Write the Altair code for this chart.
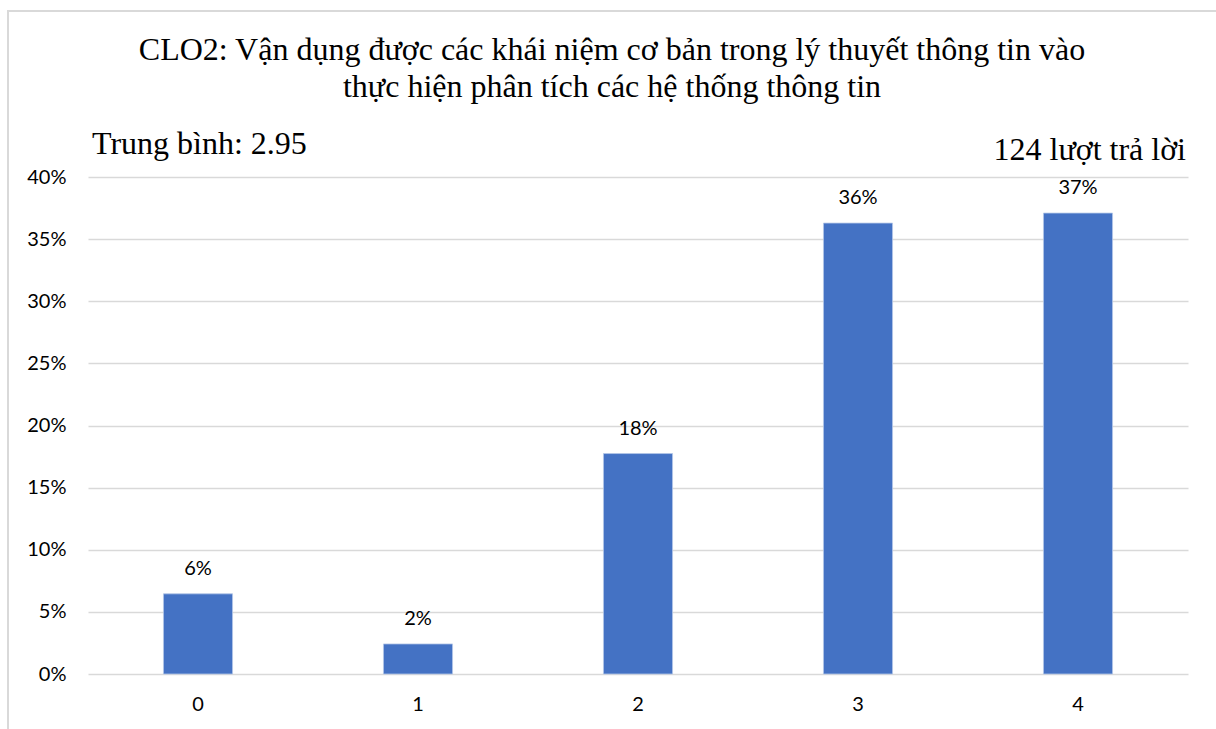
import altair as alt
import pandas as pd

# Survey responses per score level (124 responses in total)
scores = ["0", "1", "2", "3", "4"]
counts = [8, 3, 22, 45, 46]
total = sum(counts)
shares = [c / total for c in counts]
mean_score = sum(int(s) * c for s, c in zip(scores, counts)) / total

title_lines = [
    "CLO2: Vận dụng được các khái niệm cơ bản trong lý thuyết thông tin vào",
    "thực hiện phân tích các hệ thống thông tin",
]
mean_label = f"Trung bình: {mean_score:.2f}"
count_label = f"{total} lượt trả lời"

df = pd.DataFrame({"score": scores, "share": shares})
one = pd.DataFrame({"k": [0]})

BAR = "#4472C4"
GRID = "#D9D9D9"
SANS = "Lato"
SERIF = "Liberation Serif"

x_enc = alt.X(
    "score:N",
    sort=scores,
    scale=alt.Scale(paddingInner=0.686, paddingOuter=0.343),
    axis=alt.Axis(
        title=None, labelAngle=0, ticks=False, domain=False,
        labelFont=SANS, labelFontSize=20, labelColor="#000000", labelPadding=20,
    ),
)
y_enc = alt.Y(
    "share:Q",
    scale=alt.Scale(domain=[0, 0.4]),
    axis=alt.Axis(
        title=None, format=".0%", values=[0, 0.05, 0.1, 0.15, 0.2, 0.25, 0.3, 0.35, 0.4],
        ticks=False, domain=False, grid=True, gridColor=GRID, gridWidth=1.5,
        labelFont=SANS, labelFontSize=20, labelColor="#000000", labelPadding=22,
    ),
)

bars = alt.Chart(df).mark_bar(color=BAR, stroke="#B4C7E7", strokeWidth=0.8).encode(x=x_enc, y=y_enc)

values = alt.Chart(df).mark_text(
    font=SANS, fontSize=20, color="#000000", baseline="bottom", dy=-15
).encode(x=alt.X("score:N", sort=scores), y="share:Q", text=alt.Text("share:Q", format=".0%"))

frame = alt.Chart(one).mark_rect(fill=None, stroke=GRID, strokeWidth=2).encode(
    x=alt.value(-80), x2=alt.value(1200), y=alt.value(-166), y2=alt.value(600)
)

# Two-line heading, centred on the whole figure
title1 = alt.Chart(one).mark_text(
    font=SERIF, fontSize=32, color="#000000", align="center", baseline="alphabetic"
).encode(x=alt.value(524), y=alt.value(-117), text=alt.value(title_lines[0]))

title2 = alt.Chart(one).mark_text(
    font=SERIF, fontSize=32, color="#000000", align="center", baseline="alphabetic"
).encode(x=alt.value(524), y=alt.value(-80), text=alt.value(title_lines[1]))

mean_text = alt.Chart(one).mark_text(
    font=SERIF, fontSize=32, color="#000000", align="left", baseline="alphabetic"
).encode(x=alt.value(4), y=alt.value(-23), text=alt.value(mean_label))

count_text = alt.Chart(one).mark_text(
    font=SERIF, fontSize=32, color="#000000", align="right", baseline="alphabetic"
).encode(x=alt.value(1098), y=alt.value(-17), text=alt.value(count_label))

chart = (
    alt.layer(frame, bars, values, title1, title2, mean_text, count_text)
    .properties(
        width=1100,
        height=497,
        padding={"left": 88, "top": 177, "right": 28, "bottom": 55},
        autosize=alt.AutoSizeParams(type="none"),
        background="#FFFFFF",
    )
    .configure_view(stroke=None)
)

chart.save("out.html", embed_options={"renderer": "svg", "actions": False})
